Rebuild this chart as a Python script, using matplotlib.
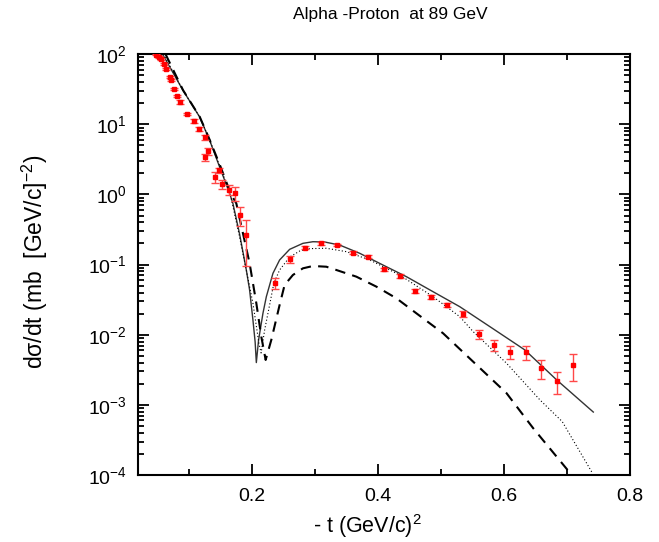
import matplotlib
matplotlib.use("Agg")
import matplotlib.pyplot as plt
import numpy as np
from matplotlib.ticker import LogLocator, FixedLocator, NullFormatter

plt.rcParams['font.family'] = ['Liberation Sans', 'DejaVu Sans']
plt.rcParams['mathtext.fontset'] = 'custom'
plt.rcParams['mathtext.rm'] = 'Liberation Sans'
plt.rcParams['mathtext.it'] = 'Liberation Sans:italic'

# experimental points: -t, dsigma/dt, error
t_data = [0.047, 0.0515, 0.0553, 0.0595, 0.0633, 0.0685, 0.0712, 0.0754, 0.0808, 0.0844,
          0.0967, 0.108, 0.1146, 0.1242, 0.1253, 0.1294, 0.1412, 0.1464, 0.152, 0.1623,
          0.1719, 0.1798, 0.1905, 0.2355, 0.2595, 0.2843, 0.3097, 0.3345, 0.36, 0.3839,
          0.4087, 0.4342, 0.4591, 0.4846, 0.5094, 0.5348, 0.5598, 0.5836, 0.609, 0.634,
          0.6588, 0.6843, 0.7088]
ds_data = [99, 91, 85, 72, 62.5, 48, 43, 32, 25.5, 21,
           14, 11.1, 8.7, 3.4, 6.5, 4.1, 1.79, 2.2, 1.41, 1.16,
           1.04, 0.51, 0.264, 0.054, 0.119, 0.174, 0.201, 0.19, 0.148, 0.13,
           0.0857, 0.0689, 0.042, 0.0349, 0.0266, 0.0198, 0.01025, 0.00716, 0.00574, 0.00563,
           0.00334, 0.0022, 0.00372]
ds_err = [3, 3, 3, 2.5, 2, 1.5, 1.5, 1, 1, 1.5,
          0.6, 0.8, 0.6, 0.4, 0.5, 0.5, 0.32, 0.2, 0.22, 0.19,
          0.22, 0.15, 0.167, 0.0097, 0.012, 0.008, 0.008, 0.007, 0.007, 0.006,
          0.005, 0.004, 0.003, 0.0025, 0.002, 0.002, 0.0015, 0.0012, 0.0012, 0.00128,
          0.00098, 0.00075, 0.00153]

# model curves
t_solid = [0.0574, 0.0897, 0.1162, 0.1321, 0.148, 0.1639, 0.1692, 0.1798, 0.1905, 0.1957,
           0.201, 0.2045, 0.2064, 0.21, 0.2169, 0.2223, 0.2328, 0.2434, 0.2593, 0.2804,
           0.2963, 0.315, 0.3388, 0.3706, 0.4076, 0.4448, 0.4871, 0.5296, 0.5805, 0.633,
           0.6835, 0.7417]
ds_solid = [100, 30.7, 12.8, 5.96, 2.48, 1.04, 0.746, 0.273, 0.0838, 0.0435,
            0.01625, 0.00789, 0.00401, 0.00843, 0.0202, 0.0349, 0.0751, 0.1165, 0.165, 0.201,
            0.212, 0.21, 0.19, 0.145, 0.0986, 0.0673, 0.0411, 0.0251, 0.0125, 0.00607,
            0.00227, 0.00079]

t_dash = [0.0622, 0.09, 0.1165, 0.1325, 0.1496, 0.1655, 0.1746, 0.1957, 0.2064, 0.2143,
          0.2212, 0.2302, 0.2434, 0.2513, 0.2645, 0.2804, 0.2963, 0.3176, 0.3335, 0.3653,
          0.3971, 0.4289, 0.4607, 0.503, 0.5507, 0.6038, 0.6461, 0.7008]
ds_dash = [100, 30.7, 12.8, 5.96, 2.48, 1.04, 0.746, 0.1045, 0.0281, 0.0094,
           0.00437, 0.00844, 0.0266, 0.0512, 0.0711, 0.0885, 0.0955, 0.0933, 0.0838, 0.0673,
           0.0485, 0.0331, 0.0202, 0.0105, 0.00414, 0.00147, 0.000466, 0.000118]

t_dot = [0.059, 0.0899, 0.1164, 0.1323, 0.1488, 0.1647, 0.1798, 0.201, 0.2105, 0.214,
         0.2196, 0.2275, 0.2343, 0.2434, 0.2593, 0.2752, 0.2911, 0.3176, 0.3494, 0.3865,
         0.4342, 0.4871, 0.5296, 0.5507, 0.6038, 0.6568, 0.6924, 0.7407]
ds_dot = [100, 30.7, 12.8, 5.96, 2.48, 1.04, 0.249, 0.0281, 0.00757, 0.0055,
          0.0117, 0.0266, 0.0547, 0.0838, 0.128, 0.156, 0.169, 0.171, 0.153, 0.1165,
          0.0711, 0.0349, 0.0181, 0.0111, 0.00393, 0.00118, 0.000577, 0.000105]

fig = plt.figure(figsize=(6.59, 5.42), dpi=100)
ax = fig.add_axes([0.209, 0.1236, 0.747, 0.7764])

ax.plot(t_solid, ds_solid, color='#333333', lw=1.0, zorder=2)
ax.plot(t_dash, ds_dash, color='black', lw=1.5, dashes=(5, 3.5), zorder=2)
ax.plot(t_dot, ds_dot, color='black', lw=0.8, linestyle=(0, (1, 2)), zorder=2)
ax.errorbar(t_data, ds_data, yerr=ds_err, fmt='s', ms=3.2, color='red', ecolor='#ff4848',
            elinewidth=1.0, capsize=3, capthick=1.0, zorder=3)

ax.set_yscale('log')
ax.set_xlim(0.018, 0.8)
ax.set_ylim(1e-4, 1e2)
ax.xaxis.set_major_locator(FixedLocator([0.2, 0.4, 0.6, 0.8]))
ax.xaxis.set_minor_locator(FixedLocator([0.1, 0.3, 0.5, 0.7]))
ax.set_xticklabels(['0.2', '0.4', '0.6', '0.8'])
ax.yaxis.set_major_locator(LogLocator(base=10, numticks=10))
ax.yaxis.set_minor_locator(LogLocator(base=10, subs=np.arange(2, 10), numticks=20))
ax.yaxis.set_minor_formatter(NullFormatter())

ax.tick_params(which='both', direction='in', top=True, right=True, labelsize=14, width=1.3)
ax.tick_params(which='major', length=8)
ax.tick_params(which='minor', length=4)
ax.tick_params(axis='y', pad=8)
ax.tick_params(axis='x', pad=9)
for s in ax.spines.values():
    s.set_linewidth(1.5)

fig.text(390 / 659, 1 - 15 / 542, 'Alpha -Proton  at 89 GeV', fontsize=12.5,
         ha='center', va='center')
fig.text(367 / 659, 1 - 526 / 542, '- t (GeV/c)$^{2}$', fontsize=15.5,
         ha='center', va='center')
fig.text(35 / 659, 1 - 262 / 542, 'dσ/dt (mb  [GeV/c]$^{-2}$)', fontsize=16.5,
         ha='center', va='center', rotation=90)

fig.savefig('out.png', dpi=100)
